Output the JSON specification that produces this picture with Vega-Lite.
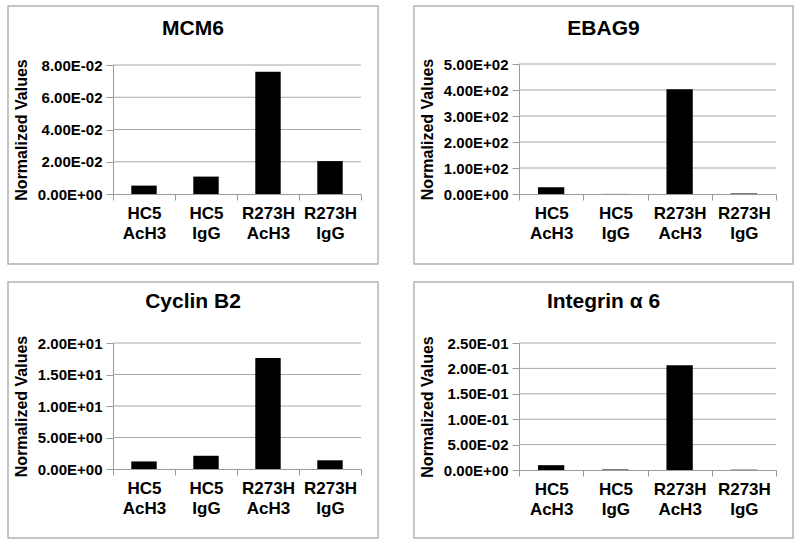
{
  "$schema": "https://vega.github.io/schema/vega-lite/v6.json",
  "background": "white",
  "padding": {"left": 7, "top": 5, "right": 5, "bottom": 5},
  "datasets": {
    "d": [
      {"gene": "MCM6", "cat": "HC5 AcH3", "value": 0.0052},
      {"gene": "MCM6", "cat": "HC5 IgG", "value": 0.0108},
      {"gene": "MCM6", "cat": "R273H AcH3", "value": 0.0758},
      {"gene": "MCM6", "cat": "R273H IgG", "value": 0.0204},
      {"gene": "EBAG9", "cat": "HC5 AcH3", "value": 26},
      {"gene": "EBAG9", "cat": "HC5 IgG", "value": 0.3},
      {"gene": "EBAG9", "cat": "R273H AcH3", "value": 403},
      {"gene": "EBAG9", "cat": "R273H IgG", "value": 2},
      {"gene": "Cyclin B2", "cat": "HC5 AcH3", "value": 1.2},
      {"gene": "Cyclin B2", "cat": "HC5 IgG", "value": 2.1},
      {"gene": "Cyclin B2", "cat": "R273H AcH3", "value": 17.6},
      {"gene": "Cyclin B2", "cat": "R273H IgG", "value": 1.38},
      {"gene": "Integrin", "cat": "HC5 AcH3", "value": 0.0095},
      {"gene": "Integrin", "cat": "HC5 IgG", "value": 0.001},
      {"gene": "Integrin", "cat": "R273H AcH3", "value": 0.206},
      {"gene": "Integrin", "cat": "R273H IgG", "value": 0.0006}
    ],
    "grid": [
      {"gene": "MCM6", "value": 0.02}, {"gene": "MCM6", "value": 0.04}, {"gene": "MCM6", "value": 0.06}, {"gene": "MCM6", "value": 0.08},
      {"gene": "EBAG9", "value": 100}, {"gene": "EBAG9", "value": 200}, {"gene": "EBAG9", "value": 300}, {"gene": "EBAG9", "value": 400}, {"gene": "EBAG9", "value": 500},
      {"gene": "Cyclin B2", "value": 5}, {"gene": "Cyclin B2", "value": 10}, {"gene": "Cyclin B2", "value": 15}, {"gene": "Cyclin B2", "value": 20},
      {"gene": "Integrin", "value": 0.05}, {"gene": "Integrin", "value": 0.1}, {"gene": "Integrin", "value": 0.15}, {"gene": "Integrin", "value": 0.2}, {"gene": "Integrin", "value": 0.25}
    ]
  },
  "config": {
    "font": "Liberation Sans",
    "view": {"stroke": "#b3b3b3", "strokeWidth": 1.5},
    "axis": {
      "domainColor": "#9a9a9a",
      "tickColor": "#9a9a9a",
      "labelColor": "#000000",
      "labelFont": "Liberation Sans",
      "labelFontWeight": "bold",
      "titleFont": "Liberation Sans",
      "titleFontWeight": "bold",
      "titleColor": "#000000",
      "grid": false
    },
    "axisX": {
      "tickBand": "extent",
      "tickSize": 6,
      "labelPadding": 5,
      "labelFontSize": 17,
      "labelLineHeight": 20,
      "labelAngle": 0,
      "labelOverlap": false,
      "labelExpr": "split(datum.label, ' ')"
    },
    "axisY": {
      "offset": -105,
      "labelFontSize": 15,
      "tickSize": 7,
      "labelPadding": 4,
      "titleFontSize": 16,
      "titlePadding": 8,
      "labelExpr": "replace(replace(upper(format(datum.value, '.2e')), 'E-', 'E-0'), 'E+', 'E+0')"
    },
    "title": {
      "fontSize": 21,
      "fontWeight": "bold",
      "color": "#000000",
      "frame": "group",
      "anchor": "middle",
      "baseline": "alphabetic"
    }
  },
  "columns": 2,
  "spacing": {"row": 18, "column": 36},
  "bounds": "flush",
  "concat": [
    {
      "width": 370, "height": 258,
      "title": {"text": "MCM6", "offset": -33},
      "layer": [
        {
          "data": {"name": "grid"},
          "transform": [{"filter": "datum.gene === 'MCM6'"}],
          "mark": {"type": "rule", "color": "#a8a8a8", "strokeWidth": 1},
          "encoding": {
            "x": {"datum": 0, "type": "quantitative", "scale": {"domain": [0, 1], "range": [105, 353]}, "axis": null},
            "x2": {"datum": 1},
            "y": {"field": "value", "type": "quantitative",
                  "scale": {"domain": [0, 0.08], "range": [188, 59], "nice": false},
                  "axis": {"title": "Normalized Values", "values": [0, 0.02, 0.04, 0.06, 0.08]}}
          }
        },
        {
          "data": {"name": "d"},
          "transform": [{"filter": "datum.gene === 'MCM6'"}],
          "mark": {"type": "bar", "color": "#000000", "width": {"band": 0.41}},
          "encoding": {
            "x": {"field": "cat", "type": "nominal", "sort": null,
                  "scale": {"range": [105, 353], "paddingInner": 0, "paddingOuter": 0},
                  "axis": {"title": null, "offset": -70}},
            "y": {"field": "value", "type": "quantitative",
                  "scale": {"domain": [0, 0.08], "range": [188, 59], "nice": false},
                  "axis": {"title": "Normalized Values", "values": [0, 0.02, 0.04, 0.06, 0.08]}}
          }
        }
      ],
      "resolve": {"scale": {"x": "independent"}}
    },
    {
      "width": 379, "height": 258,
      "title": {"text": "EBAG9", "offset": -33},
      "layer": [
        {
          "data": {"name": "grid"},
          "transform": [{"filter": "datum.gene === 'EBAG9'"}],
          "mark": {"type": "rule", "color": "#a8a8a8", "strokeWidth": 1},
          "encoding": {
            "x": {"datum": 0, "type": "quantitative", "scale": {"domain": [0, 1], "range": [105, 362]}, "axis": null},
            "x2": {"datum": 1},
            "y": {"field": "value", "type": "quantitative",
                  "scale": {"domain": [0, 500], "range": [188, 58], "nice": false},
                  "axis": {"title": "Normalized Values", "values": [0, 100, 200, 300, 400, 500]}}
          }
        },
        {
          "data": {"name": "d"},
          "transform": [{"filter": "datum.gene === 'EBAG9'"}],
          "mark": {"type": "bar", "color": "#000000", "width": {"band": 0.41}},
          "encoding": {
            "x": {"field": "cat", "type": "nominal", "sort": null,
                  "scale": {"range": [105, 362], "paddingInner": 0, "paddingOuter": 0},
                  "axis": {"title": null, "offset": -70}},
            "y": {"field": "value", "type": "quantitative",
                  "scale": {"domain": [0, 500], "range": [188, 58], "nice": false},
                  "axis": {"title": "Normalized Values", "values": [0, 100, 200, 300, 400, 500]}}
          }
        }
      ],
      "resolve": {"scale": {"x": "independent"}}
    },
    {
      "width": 370, "height": 256,
      "title": {"text": "Cyclin B2", "offset": -30},
      "layer": [
        {
          "data": {"name": "grid"},
          "transform": [{"filter": "datum.gene === 'Cyclin B2'"}],
          "mark": {"type": "rule", "color": "#a8a8a8", "strokeWidth": 1},
          "encoding": {
            "x": {"datum": 0, "type": "quantitative", "scale": {"domain": [0, 1], "range": [105, 353]}, "axis": null},
            "x2": {"datum": 1},
            "y": {"field": "value", "type": "quantitative",
                  "scale": {"domain": [0, 20], "range": [187, 61], "nice": false},
                  "axis": {"title": "Normalized Values", "values": [0, 5, 10, 15, 20]}}
          }
        },
        {
          "data": {"name": "d"},
          "transform": [{"filter": "datum.gene === 'Cyclin B2'"}],
          "mark": {"type": "bar", "color": "#000000", "width": {"band": 0.41}},
          "encoding": {
            "x": {"field": "cat", "type": "nominal", "sort": null,
                  "scale": {"range": [105, 353], "paddingInner": 0, "paddingOuter": 0},
                  "axis": {"title": null, "offset": -69}},
            "y": {"field": "value", "type": "quantitative",
                  "scale": {"domain": [0, 20], "range": [187, 61], "nice": false},
                  "axis": {"title": "Normalized Values", "values": [0, 5, 10, 15, 20]}}
          }
        }
      ],
      "resolve": {"scale": {"x": "independent"}}
    },
    {
      "width": 379, "height": 256,
      "title": {"text": "Integrin α 6", "offset": -30},
      "layer": [
        {
          "data": {"name": "grid"},
          "transform": [{"filter": "datum.gene === 'Integrin'"}],
          "mark": {"type": "rule", "color": "#a8a8a8", "strokeWidth": 1},
          "encoding": {
            "x": {"datum": 0, "type": "quantitative", "scale": {"domain": [0, 1], "range": [105, 362]}, "axis": null},
            "x2": {"datum": 1},
            "y": {"field": "value", "type": "quantitative",
                  "scale": {"domain": [0, 0.25], "range": [188, 61], "nice": false},
                  "axis": {"title": "Normalized Values", "values": [0, 0.05, 0.1, 0.15, 0.2, 0.25]}}
          }
        },
        {
          "data": {"name": "d"},
          "transform": [{"filter": "datum.gene === 'Integrin'"}],
          "mark": {"type": "bar", "color": "#000000", "width": {"band": 0.41}},
          "encoding": {
            "x": {"field": "cat", "type": "nominal", "sort": null,
                  "scale": {"range": [105, 362], "paddingInner": 0, "paddingOuter": 0},
                  "axis": {"title": null, "offset": -68}},
            "y": {"field": "value", "type": "quantitative",
                  "scale": {"domain": [0, 0.25], "range": [188, 61], "nice": false},
                  "axis": {"title": "Normalized Values", "values": [0, 0.05, 0.1, 0.15, 0.2, 0.25]}}
          }
        }
      ],
      "resolve": {"scale": {"x": "independent"}}
    }
  ]
}
